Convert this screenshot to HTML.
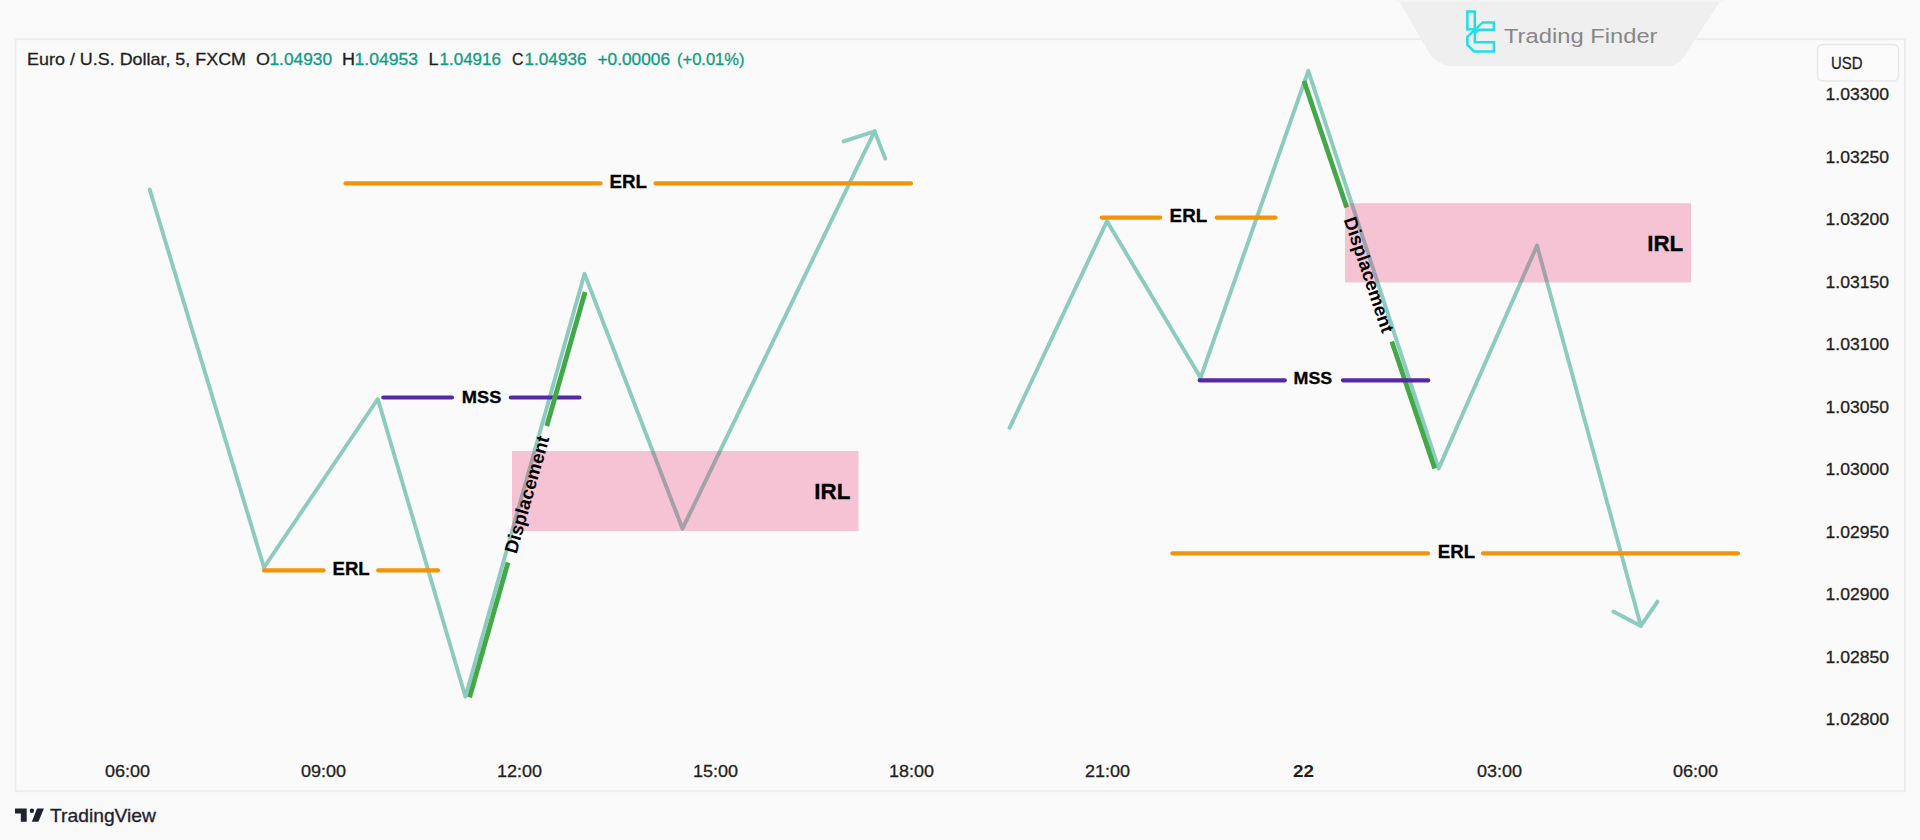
<!DOCTYPE html>
<html lang="en">
<head>
<meta charset="utf-8">
<title>Euro / U.S. Dollar - ERL / IRL / MSS Displacement</title>
<style>
html,body{margin:0;padding:0;background:#f9f9f9;}
body{width:1920px;height:840px;overflow:hidden;position:relative;font-family:"Liberation Sans",sans-serif;}
svg{position:absolute;left:0;top:0;display:block;}
text{font-family:"Liberation Sans",sans-serif;}
.b{font-weight:bold;}
.n{stroke-width:0.3px;paint-order:stroke;}
.lb{font-weight:bold;stroke:#000;stroke-width:0.3px;}
</style>
</head>
<body>
<svg width="1920" height="840" viewBox="0 0 1920 840">
<rect x="0" y="0" width="1920" height="840" fill="#f9f9f9"/>
<rect x="15.4" y="39.2" width="1889.6" height="752" fill="#fafafa" stroke="#ededef" stroke-width="2"/>
<path d="M1398.6,0 L1427.4,50 Q1436.8,66.3 1455,66.3 L1668,66.3 Q1680,66.3 1688.2,50 L1720.8,0 Z" fill="#efefef"/>
<rect x="1396" y="0" width="328" height="1.6" fill="#f5f5f5"/>
<g fill="none" stroke="#1fe0ea" stroke-width="2.5" stroke-linejoin="miter">
<rect x="1467.33" y="11.5" width="7.42" height="17.83"/>
<path d="M1482.67,22.42 L1493.92,22.42 L1493.92,29.67 L1478.7,29.67 L1474.83,33.4 L1474.83,42.25 L1493.92,42.25 L1493.92,51.5 L1474.17,51.5 L1467.33,45 L1467.33,36.92 Z"/>
</g>
<text x="1504" y="42.5" font-size="20" fill="#878787" textLength="153.5" lengthAdjust="spacingAndGlyphs">Trading Finder</text>
<rect x="1817.5" y="44.5" width="81" height="36.5" rx="5" fill="#fbfbfb" stroke="#e7e7e9" stroke-width="1.4"/>
<text x="1831" y="68.9" font-size="16.5" class="n" stroke="#1f1f1f" fill="#1f1f1f" textLength="31.5" lengthAdjust="spacingAndGlyphs">USD</text>
<text x="1825.5" y="100.3" font-size="17" class="n" stroke="#1f1f1f" fill="#1f1f1f" textLength="63.5" lengthAdjust="spacingAndGlyphs">1.03300</text>
<text x="1825.5" y="162.8" font-size="17" class="n" stroke="#1f1f1f" fill="#1f1f1f" textLength="63.5" lengthAdjust="spacingAndGlyphs">1.03250</text>
<text x="1825.5" y="225.3" font-size="17" class="n" stroke="#1f1f1f" fill="#1f1f1f" textLength="63.5" lengthAdjust="spacingAndGlyphs">1.03200</text>
<text x="1825.5" y="287.8" font-size="17" class="n" stroke="#1f1f1f" fill="#1f1f1f" textLength="63.5" lengthAdjust="spacingAndGlyphs">1.03150</text>
<text x="1825.5" y="350.3" font-size="17" class="n" stroke="#1f1f1f" fill="#1f1f1f" textLength="63.5" lengthAdjust="spacingAndGlyphs">1.03100</text>
<text x="1825.5" y="412.8" font-size="17" class="n" stroke="#1f1f1f" fill="#1f1f1f" textLength="63.5" lengthAdjust="spacingAndGlyphs">1.03050</text>
<text x="1825.5" y="475.3" font-size="17" class="n" stroke="#1f1f1f" fill="#1f1f1f" textLength="63.5" lengthAdjust="spacingAndGlyphs">1.03000</text>
<text x="1825.5" y="537.8" font-size="17" class="n" stroke="#1f1f1f" fill="#1f1f1f" textLength="63.5" lengthAdjust="spacingAndGlyphs">1.02950</text>
<text x="1825.5" y="600.3" font-size="17" class="n" stroke="#1f1f1f" fill="#1f1f1f" textLength="63.5" lengthAdjust="spacingAndGlyphs">1.02900</text>
<text x="1825.5" y="662.8" font-size="17" class="n" stroke="#1f1f1f" fill="#1f1f1f" textLength="63.5" lengthAdjust="spacingAndGlyphs">1.02850</text>
<text x="1825.5" y="725.3" font-size="17" class="n" stroke="#1f1f1f" fill="#1f1f1f" textLength="63.5" lengthAdjust="spacingAndGlyphs">1.02800</text>
<text x="127.5" y="777" font-size="17" class="n" stroke="#1f1f1f" fill="#1f1f1f" text-anchor="middle" textLength="45" lengthAdjust="spacingAndGlyphs">06:00</text>
<text x="323.5" y="777" font-size="17" class="n" stroke="#1f1f1f" fill="#1f1f1f" text-anchor="middle" textLength="45" lengthAdjust="spacingAndGlyphs">09:00</text>
<text x="519.5" y="777" font-size="17" class="n" stroke="#1f1f1f" fill="#1f1f1f" text-anchor="middle" textLength="45" lengthAdjust="spacingAndGlyphs">12:00</text>
<text x="715.5" y="777" font-size="17" class="n" stroke="#1f1f1f" fill="#1f1f1f" text-anchor="middle" textLength="45" lengthAdjust="spacingAndGlyphs">15:00</text>
<text x="911.5" y="777" font-size="17" class="n" stroke="#1f1f1f" fill="#1f1f1f" text-anchor="middle" textLength="45" lengthAdjust="spacingAndGlyphs">18:00</text>
<text x="1107.5" y="777" font-size="17" class="n" stroke="#1f1f1f" fill="#1f1f1f" text-anchor="middle" textLength="45" lengthAdjust="spacingAndGlyphs">21:00</text>
<text x="1303.5" y="777" font-size="17" class="b" fill="#1f1f1f" text-anchor="middle" textLength="21" lengthAdjust="spacingAndGlyphs">22</text>
<text x="1499.5" y="777" font-size="17" class="n" stroke="#1f1f1f" fill="#1f1f1f" text-anchor="middle" textLength="45" lengthAdjust="spacingAndGlyphs">03:00</text>
<text x="1695.5" y="777" font-size="17" class="n" stroke="#1f1f1f" fill="#1f1f1f" text-anchor="middle" textLength="45" lengthAdjust="spacingAndGlyphs">06:00</text>
<text x="27.1" y="65.3" font-size="17" class="n" stroke="#1f1f1f" fill="#1f1f1f" textLength="218.9" lengthAdjust="spacingAndGlyphs">Euro / U.S. Dollar, 5, FXCM</text>
<text x="256" y="65.3" font-size="17" class="n" stroke="#1f1f1f" fill="#1f1f1f" textLength="14.0" lengthAdjust="spacingAndGlyphs">O</text>
<text x="269.5" y="65.3" font-size="17" class="n" stroke="#0f9b84" fill="#0f9b84" textLength="62.5" lengthAdjust="spacingAndGlyphs">1.04930</text>
<text x="342" y="65.3" font-size="17" class="n" stroke="#1f1f1f" fill="#1f1f1f" textLength="13.0" lengthAdjust="spacingAndGlyphs">H</text>
<text x="354.5" y="65.3" font-size="17" class="n" stroke="#0f9b84" fill="#0f9b84" textLength="63.5" lengthAdjust="spacingAndGlyphs">1.04953</text>
<text x="428.5" y="65.3" font-size="17" class="n" stroke="#1f1f1f" fill="#1f1f1f" textLength="10.0" lengthAdjust="spacingAndGlyphs">L</text>
<text x="439.5" y="65.3" font-size="17" class="n" stroke="#0f9b84" fill="#0f9b84" textLength="61.5" lengthAdjust="spacingAndGlyphs">1.04916</text>
<text x="512" y="65.3" font-size="17" class="n" stroke="#1f1f1f" fill="#1f1f1f" textLength="11.5" lengthAdjust="spacingAndGlyphs">C</text>
<text x="524.5" y="65.3" font-size="17" class="n" stroke="#0f9b84" fill="#0f9b84" textLength="62.0" lengthAdjust="spacingAndGlyphs">1.04936</text>
<text x="597.5" y="65.3" font-size="17" class="n" stroke="#0f9b84" fill="#0f9b84" textLength="72.5" lengthAdjust="spacingAndGlyphs">+0.00006</text>
<text x="677" y="65.3" font-size="17" class="n" stroke="#0f9b84" fill="#0f9b84" textLength="67.5" lengthAdjust="spacingAndGlyphs">(+0.01%)</text>
<g fill="none" stroke="#8dcbbe" stroke-width="3.9" stroke-linejoin="round" stroke-linecap="round">
<polyline points="149.7,189.5 264,567.5 377.8,399 465.4,696.7 584.5,273.8 682.5,528.7 874.6,131.3"/>
<polyline points="843.6,141.4 874.6,131.3 885.2,158.6"/>
<polyline points="1009.6,427.8 1107,221.2 1200.6,377.7 1308.3,70.8 1438.6,468.6 1537,245.5 1640.9,625.9"/>
<polyline points="1613.3,611.6 1640.9,625.9 1657.5,601.6"/>
</g>
<g fill="none" stroke="#f2930d" stroke-width="4.2" stroke-linecap="round">
<path d="M345.5,183.4 H600.5 M655.5,183.4 H911"/>
<path d="M264,570.4 H323.6 M378.2,570.4 H438"/>
<path d="M1101.7,217.6 H1160.2 M1216.7,217.6 H1275.5"/>
<path d="M1172.3,553.3 H1428 M1483,553.3 H1738"/>
</g>
<g fill="none" stroke="#5528a4" stroke-width="4.2" stroke-linecap="round">
<path d="M383.3,397.5 H452 M510.8,397.5 H579.5"/>
</g>
<g fill="none" stroke="#43a948" stroke-width="4.8" stroke-linecap="butt">
<path d="M469.6,697.4 L508,562.5 M546.8,426 L585.1,292"/>
<path d="M1304,81 L1346.7,207.6 M1391.8,341.5 L1434.7,468.6"/>
</g>
<g fill="none" stroke="#5528a4" stroke-width="4.2" stroke-linecap="round">
<path d="M1199.6,380.3 H1284.9 M1343,380.3 H1428.3"/>
</g>
<rect x="512" y="451" width="346.5" height="80" fill="rgba(233,30,99,0.25)"/>
<rect x="1345" y="203.2" width="346" height="79.2" fill="rgba(233,30,99,0.25)"/>
<text x="609.5" y="188" font-size="18.5" class="lb" fill="#000" textLength="37.5" lengthAdjust="spacingAndGlyphs">ERL</text>
<text x="332.5" y="575" font-size="18.5" class="lb" fill="#000" textLength="37.2" lengthAdjust="spacingAndGlyphs">ERL</text>
<text x="1169.6" y="222.2" font-size="18.5" class="lb" fill="#000" textLength="37.6" lengthAdjust="spacingAndGlyphs">ERL</text>
<text x="1437.8" y="558" font-size="18.5" class="lb" fill="#000" textLength="37.2" lengthAdjust="spacingAndGlyphs">ERL</text>
<text x="461.8" y="403.4" font-size="17" class="lb" fill="#000" textLength="39.5" lengthAdjust="spacingAndGlyphs">MSS</text>
<text x="1293.6" y="384.1" font-size="17" class="lb" fill="#000" textLength="38.6" lengthAdjust="spacingAndGlyphs">MSS</text>
<text x="814.3" y="499.3" font-size="22" class="lb" fill="#000" textLength="36.0" lengthAdjust="spacingAndGlyphs">IRL</text>
<text x="1647.2" y="250.9" font-size="22" class="lb" fill="#000" textLength="36.1" lengthAdjust="spacingAndGlyphs">IRL</text>
<text transform="translate(526.9,494.6) rotate(-74.1)" x="0" y="6.3" font-size="18.5" class="b" fill="#000" text-anchor="middle" textLength="121" lengthAdjust="spacingAndGlyphs">Displacement</text>
<text transform="translate(1368.9,274.8) rotate(71.4)" x="0" y="6.3" font-size="18.5" class="b" fill="#000" text-anchor="middle" textLength="121" lengthAdjust="spacingAndGlyphs">Displacement</text>
<g fill="#1e222d">
<path d="M15,808.6 H26.7 V821.7 H20.8 V813.4 H15 Z"/>
<circle cx="31.9" cy="810.7" r="2.2"/>
<path d="M37,808.6 H43.9 L38.4,821.7 H31.9 Z"/>
</g>
<text x="50" y="821.7" font-size="17.7" fill="#1e222d" stroke="#1e222d" stroke-width="0.3" textLength="106" lengthAdjust="spacingAndGlyphs">TradingView</text>
</svg>
</body>
</html>
